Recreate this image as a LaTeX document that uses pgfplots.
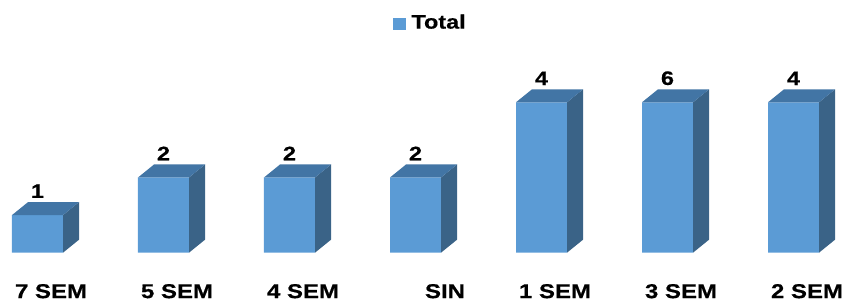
\documentclass[border=0pt]{standalone}
\usepackage{fontspec}
\setmainfont{Liberation Sans}
\newfontfamily\stretchfont{Liberation Sans}[FakeStretch=1.2, BoldFeatures={FakeBold=0.6}]
\usepackage{pgfplots}
\pgfplotsset{compat=1.18}
\usepackage{pgfplotstable}
\definecolor{front}{HTML}{5B9BD5}
\definecolor{side}{HTML}{3A6387}
\definecolor{topc}{HTML}{4275A5}

\pgfplotstableread{
x y label
0 1 1
1 2 2
2 2 2
3 2 2
4 4 4
5 6 6
6 4 4
}\datatable

\begin{document}
\begin{tikzpicture}
\begin{axis}[
  scale only axis, width=846pt, height=302pt,
  xmin=-0.29762, xmax=6.41667, ymin=-1.3138, ymax=6.718,
  axis line style={draw=none},
  ytick=\empty, xtick={0,...,6},
  xticklabels={7 SEM,5 SEM,4 SEM,\hspace*{32pt}SIN,1 SEM,3 SEM,2 SEM},
  major tick length=0pt,
  xticklabel style={anchor=base, yshift=4pt, xshift=13.5pt, inner sep=0pt,
    font=\stretchfont\fontsize{20}{23}\selectfont\bfseries},
  unbounded coords=jump,
  legend style={at={(axis description cs:0.46454,0.9)}, anchor=south west,
    draw=none, fill=none, inner sep=0pt, outer sep=0pt,
    font=\stretchfont\fontsize{19.5}{22}\selectfont\bfseries, nodes={inner sep=0pt},
    /tikz/every odd column/.append style={column sep=6pt}},
]
% front faces (values above 4 are cut at the axis maximum 4, as in the source chart)
\addplot[ybar, bar width=0.4048, fill=front, draw=none,
  y filter/.expression={min(y,4)},
  point meta=explicit symbolic, nodes near coords,
  nodes near coords style={anchor=south, inner sep=0pt, yshift=17pt,
    font=\stretchfont\fontsize{19.5}{22}\selectfont\bfseries, text=black},
  legend image code/.code={\fill[front] (0pt,-8pt) rectangle (12.5pt,4.5pt);}]
  table[x=x, y=y, meta=label] {\datatable};
\addlegendentry{Total}
% side faces
\addplot[fill=side, draw=none, forget plot] coordinates {
(0.2024,0) (0.3294,0.3457) (0.3294,1.3457) (0.2024,1) (0.2024,nan)
(1.2024,0) (1.3294,0.3457) (1.3294,2.3457) (1.2024,2) (1.2024,nan)
(2.2024,0) (2.3294,0.3457) (2.3294,2.3457) (2.2024,2) (2.2024,nan)
(3.2024,0) (3.3294,0.3457) (3.3294,2.3457) (3.2024,2) (3.2024,nan)
(4.2024,0) (4.3294,0.3457) (4.3294,4.3457) (4.2024,4) (4.2024,nan)
(5.2024,0) (5.3294,0.3457) (5.3294,4.3457) (5.2024,4) (5.2024,nan)
(6.2024,0) (6.3294,0.3457) (6.3294,4.3457) (6.2024,4)
};
% top faces
\addplot[fill=topc, draw=none, forget plot] coordinates {
(-0.2024,1) (0.2024,1) (0.3294,1.3457) (-0.0754,1.3457) (0,nan)
(0.7976,2) (1.2024,2) (1.3294,2.3457) (0.9246,2.3457) (1,nan)
(1.7976,2) (2.2024,2) (2.3294,2.3457) (1.9246,2.3457) (2,nan)
(2.7976,2) (3.2024,2) (3.3294,2.3457) (2.9246,2.3457) (3,nan)
(3.7976,4) (4.2024,4) (4.3294,4.3457) (3.9246,4.3457) (4,nan)
(4.7976,4) (5.2024,4) (5.3294,4.3457) (4.9246,4.3457) (5,nan)
(5.7976,4) (6.2024,4) (6.3294,4.3457) (5.9246,4.3457)
};
\end{axis}
\end{tikzpicture}
\end{document}
